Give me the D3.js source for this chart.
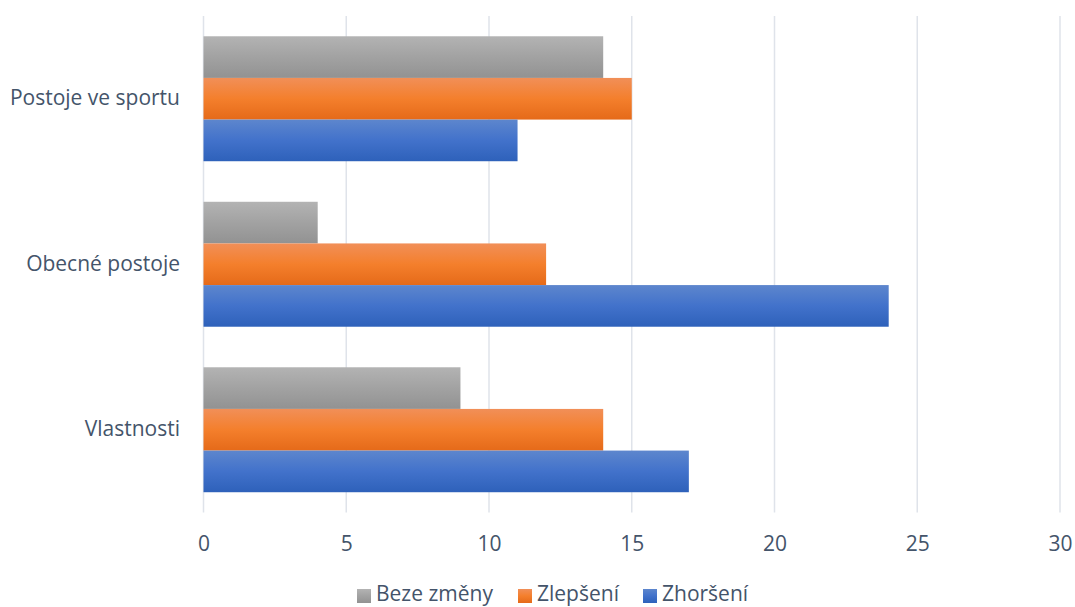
<!DOCTYPE html>
<html lang="cs">
<head>
<meta charset="UTF-8">
<script src="https://d3js.org/d3.v7.min.js"></script>
<style>
  body { margin: 0; background: #fff; }
  text { font-family: "Open Sans", "Noto Sans", sans-serif; fill: #44546a; }
</style>
</head>
<body>
<div id="container"></div>
<script>
// data
var categories = ["Postoje ve sportu", "Obecné postoje", "Vlastnosti"];
var seriesNames = ["Beze změny", "Zlepšení", "Zhoršení"];
var bezeZmeny = [14, 4, 9];
var zlepseni = [15, 12, 14];
var zhorseni = [11, 24, 17];
var xTicks = [0, 5, 10, 15, 20, 25, 30];

var seriesValues = [bezeZmeny, zlepseni, zhorseni];
var gradStops = [
  ["#b3b3b3", "#a2a2a2", "#929292"],
  ["#f18f58", "#f47f2c", "#e56a19"],
  ["#5d86cd", "#4272cb", "#2e61ba"]
];

var width = 1075, height = 607;
var plot = {left: 203.5, right: 1060, top: 16, bottom: 512.5};
var fontSize = 21;

var svg = d3.select("#container").append("svg")
  .attr("width", width).attr("height", height);

var defs = svg.append("defs");
gradStops.forEach(function(stops, i) {
  var g = defs.append("linearGradient").attr("id", "grad" + i)
    .attr("x1", 0).attr("y1", 0).attr("x2", 0).attr("y2", 1);
  g.append("stop").attr("offset", "0%").attr("stop-color", stops[0]);
  g.append("stop").attr("offset", "50%").attr("stop-color", stops[1]);
  g.append("stop").attr("offset", "100%").attr("stop-color", stops[2]);
});

var x = d3.scaleLinear().domain([0, 30]).range([plot.left, plot.right]);
var y = d3.scaleBand().domain(categories).range([plot.top, plot.bottom])
  .paddingInner(0.245).paddingOuter(0.1225);
var ySub = d3.scaleBand().domain(seriesNames).range([0, y.bandwidth()]);

// grid lines
svg.append("g").selectAll("line").data(xTicks).enter().append("line")
  .attr("x1", d => x(d)).attr("x2", d => x(d))
  .attr("y1", plot.top).attr("y2", plot.bottom)
  .attr("stroke", "#dfe3ea").attr("stroke-width", 1.5);

// bars
var rows = categories.map(function(c, i) {
  return seriesNames.map(function(s, j) {
    return {cat: c, series: s, idx: j, val: seriesValues[j][i]};
  });
});
var groups = svg.append("g").selectAll("g").data(rows).enter().append("g")
  .attr("transform", (d, i) => "translate(0," + y(categories[i]) + ")");
groups.selectAll("rect").data(d => d).enter().append("rect")
  .attr("x", x(0))
  .attr("y", d => ySub(d.series))
  .attr("width", d => x(d.val) - x(0))
  .attr("height", ySub.bandwidth())
  .attr("fill", d => "url(#grad" + d.idx + ")");

// x axis labels
var xAxis = d3.axisBottom(x).tickValues(xTicks).tickSize(0).tickPadding(0);
var xg = svg.append("g").attr("transform", "translate(0,536)").call(xAxis);
xg.select(".domain").remove();
xg.selectAll("text").attr("font-size", fontSize).attr("dy", "0.71em");
xg.attr("font-family", null).attr("font-size", null);

// y axis labels
var yAxis = d3.axisLeft(y).tickSize(0).tickPadding(23.5);
var yg = svg.append("g").attr("transform", "translate(" + plot.left + ",0)").call(yAxis);
yg.select(".domain").remove();
yg.selectAll("text").attr("font-size", fontSize);
yg.attr("font-family", null).attr("font-size", null);

// legend
var legendX = [357, 518, 643];
var legend = svg.append("g").selectAll("g").data(seriesNames).enter().append("g")
  .attr("transform", (d, i) => "translate(" + legendX[i] + ",0)");
legend.append("rect").attr("x", 0).attr("y", 589).attr("width", 14).attr("height", 14)
  .attr("fill", (d, i) => "url(#grad" + i + ")");
legend.append("text").attr("x", 19).attr("y", 601).attr("font-size", fontSize).text(d => d);
</script>
</body>
</html>
